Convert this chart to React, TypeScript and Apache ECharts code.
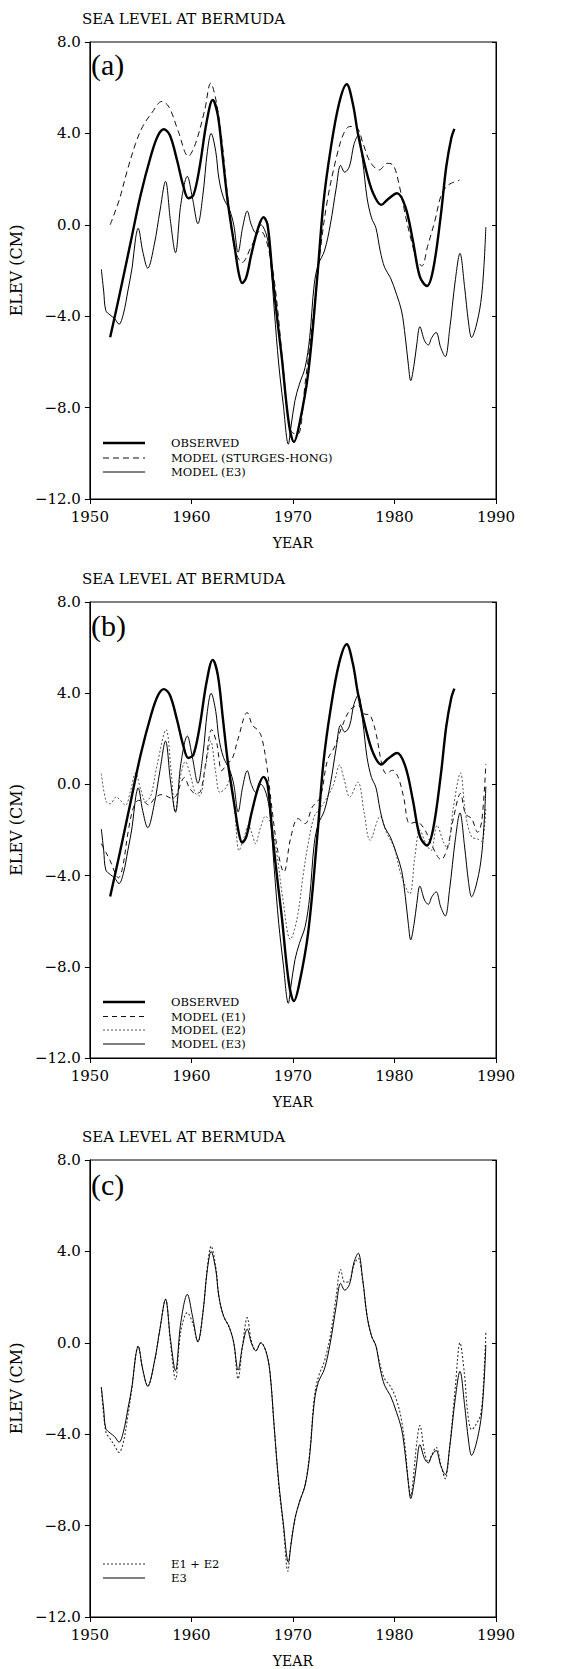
import React, { useEffect, useRef } from "react";
import * as echarts from "echarts";

// ---------- DATA (year, elevation in cm) ----------
const xTickYears = [1950, 1960, 1970, 1980, 1990];
const yTickValues = [-12, -8, -4, 0, 4, 8];

const observed: [number, number][] = [
  [1952.0, -4.92], [1953.0, -2.9], [1954.0, -0.8], [1955.0, 1.3], [1956.0, 3.0],
  [1956.7, 3.9], [1957.3, 4.18], [1957.9, 3.9], [1958.6, 2.8], [1959.2, 1.7],
  [1959.7, 1.16], [1960.2, 1.3], [1960.8, 2.5], [1961.5, 4.5], [1962.1, 5.46],
  [1962.6, 4.8], [1963.1, 2.9], [1963.6, 0.94], [1964.3, -1.1], [1964.7, -2.2],
  [1965.0, -2.55], [1965.4, -2.3], [1965.9, -1.3], [1966.6, -0.1], [1967.1, 0.33],
  [1967.5, 0.0], [1968.0, -2.27], [1968.5, -4.3], [1968.9, -5.8], [1969.6, -8.7],
  [1970.1, -9.5], [1970.6, -8.8], [1971.5, -6.5], [1972.4, -2.27], [1973.0, 0.94],
  [1973.7, 3.27], [1974.55, 5.32], [1975.3, 6.15], [1975.9, 5.3], [1976.4, 4.0],
  [1977.2, 2.4], [1977.9, 1.38], [1978.7, 0.87], [1979.3, 1.1], [1980.26, 1.38],
  [1981.07, 0.79], [1981.8, -0.66], [1982.5, -2.27], [1983.2, -2.68], [1983.8, -1.98],
  [1984.55, 0.36], [1985.1, 2.54], [1985.6, 3.8], [1985.9, 4.2],
];

const sturgesHong: [number, number][] = [
  [1952.0, 0.0], [1952.9, 1.1], [1953.7, 2.4], [1954.5, 3.55], [1955.2, 4.3],
  [1956.1, 4.9], [1957.1, 5.4], [1957.8, 5.15], [1958.7, 4.1], [1959.7, 3.0],
  [1960.4, 3.55], [1961.3, 5.0], [1961.9, 6.2], [1962.4, 5.5], [1963.0, 3.7],
  [1963.6, 1.1], [1964.3, -1.1], [1965.0, -1.65], [1965.9, -0.95], [1966.8, -0.25],
  [1967.45, -0.8], [1968.2, -2.56], [1969.0, -6.06], [1969.6, -8.69], [1969.95, -9.1],
  [1970.5, -9.15], [1971.2, -6.94], [1972.1, -3.6], [1972.7, -1.1], [1973.4, 1.09],
  [1974.3, 2.98], [1975.0, 4.0], [1975.6, 4.3], [1976.3, 4.25], [1976.9, 3.57],
  [1977.6, 2.76], [1978.5, 2.4], [1979.3, 2.69], [1979.9, 2.6], [1980.5, 1.67],
  [1981.1, 0.36], [1981.65, -0.67], [1982.2, -1.54], [1982.7, -1.8], [1983.25, -0.96],
  [1984.0, 0.21], [1984.55, 1.23], [1985.1, 1.67], [1985.6, 1.82], [1986.4, 1.95],
];

const modelE3: [number, number][] = [
  [1951.13, -1.95], [1951.36, -2.9], [1951.57, -3.75], [1952.0, -3.95], [1952.43, -4.1],
  [1952.87, -4.35], [1953.3, -3.9], [1953.74, -2.9], [1954.17, -1.85], [1954.5, -0.6],
  [1954.75, -0.15], [1955.2, -1.15], [1955.7, -1.9], [1956.35, -0.85], [1956.9, 0.6],
  [1957.45, 1.9], [1957.94, 0.15], [1958.43, -1.22], [1958.96, 0.9], [1959.6, 2.12],
  [1960.1, 1.18], [1960.64, 0.05], [1961.13, 1.3], [1961.57, 3.2], [1961.94, 4.0],
  [1962.4, 3.2], [1962.7, 2.05], [1963.16, 1.18], [1963.74, 0.67], [1964.17, 0.0],
  [1964.6, -1.2], [1965.04, -0.13], [1965.5, 0.6], [1965.9, 0.0], [1966.35, -0.35],
  [1966.84, 0.0], [1967.36, -0.4], [1967.74, -1.3], [1968.17, -3.77], [1968.6, -6.09],
  [1969.04, -7.84], [1969.55, -9.6], [1969.8, -8.86], [1970.2, -7.69], [1970.64, -6.97],
  [1971.2, -6.24], [1971.65, -4.93], [1972.1, -2.6], [1972.5, -1.73], [1973.1, -1.15],
  [1973.68, 0.0], [1974.26, 1.6], [1974.7, 2.6], [1975.1, 2.3], [1975.57, 2.56],
  [1976.0, 3.5], [1976.43, 3.92], [1976.87, 2.78], [1977.3, 1.18], [1977.74, 0.3],
  [1978.17, -0.13], [1978.6, -1.15], [1979.04, -1.88], [1979.6, -2.31], [1980.2, -3.04],
  [1980.7, -3.77], [1981.07, -4.93], [1981.36, -6.09], [1981.6, -6.82], [1981.94, -6.09],
  [1982.2, -5.22], [1982.5, -4.46], [1982.96, -5.07], [1983.33, -5.26], [1983.68, -4.93],
  [1984.1, -4.71], [1984.55, -5.37], [1985.0, -5.77], [1985.42, -4.64], [1986.0, -2.4],
  [1986.45, -1.25], [1986.9, -2.7], [1987.3, -4.3], [1987.6, -4.93], [1988.0, -4.5],
  [1988.5, -3.4], [1988.8, -1.9], [1989.0, -0.1],
];

const modelE1: [number, number][] = [
  [1951.13, -2.6], [1951.6, -3.0], [1952.0, -3.35], [1952.5, -3.9], [1952.8, -4.1],
  [1953.2, -3.7], [1953.8, -2.0], [1954.3, -1.0], [1954.8, -0.7], [1955.3, -0.75],
  [1955.8, -0.9], [1956.4, -0.6], [1957.0, -0.45], [1957.5, -0.5], [1958.0, -0.6],
  [1958.5, -0.5], [1959.0, 0.1], [1959.3, 0.3], [1959.8, -0.15], [1960.4, -0.4],
  [1960.9, -0.3], [1961.4, 0.9], [1962.0, 2.4], [1962.5, 1.8], [1963.0, 0.6],
  [1963.5, 0.9], [1964.0, 1.1], [1964.6, 2.0], [1965.5, 3.15], [1966.0, 2.6],
  [1966.5, 2.4], [1966.9, 2.1], [1967.4, 0.9], [1968.0, -1.3], [1968.5, -2.9],
  [1969.1, -3.85], [1969.8, -2.3], [1970.5, -1.5], [1971.2, -1.72], [1971.9, -1.0],
  [1972.7, -0.55], [1973.4, 1.06], [1974.1, 1.64], [1974.8, 2.5], [1975.6, 3.25],
  [1976.4, 3.47], [1977.0, 3.1], [1977.6, 3.03], [1978.2, 2.2], [1978.75, 0.9],
  [1979.2, 0.47], [1979.8, 0.62], [1980.35, 0.33], [1980.9, -0.55], [1981.5, -1.72],
  [1982.2, -1.65], [1983.0, -2.0], [1983.7, -2.7], [1984.6, -3.3], [1985.2, -2.8],
  [1985.8, -1.5], [1986.5, -0.4], [1987.0, -1.3], [1987.6, -1.5], [1988.2, -2.1],
  [1988.6, -1.6], [1989.0, 0.9],
];

const modelE2: [number, number][] = [
  [1951.13, 0.47], [1951.6, -0.75], [1952.0, -0.85], [1952.6, -0.55], [1953.0, -0.7],
  [1953.5, -0.92], [1954.0, -0.3], [1954.5, 0.5], [1955.0, -0.2], [1955.5, -0.75],
  [1956.0, -0.5], [1956.6, 0.8], [1957.5, 2.4], [1958.0, 0.6], [1958.4, -1.2],
  [1958.9, 0.3], [1959.4, 1.0], [1959.9, 0.4], [1960.4, -0.4], [1960.8, -0.5],
  [1961.4, 0.8], [1961.9, 1.9], [1962.4, 0.5], [1962.8, -0.35], [1963.3, -0.2],
  [1963.8, 0.2], [1964.2, -0.8], [1964.7, -2.9], [1965.2, -2.3], [1965.6, -1.8],
  [1966.0, -2.2], [1966.3, -2.6], [1966.8, -1.9], [1967.3, -1.4], [1967.8, -1.7],
  [1968.4, -3.0], [1969.0, -5.0], [1969.75, -6.8], [1970.4, -5.9], [1971.0, -4.0],
  [1971.5, -2.6], [1972.1, -1.4], [1972.6, -1.1], [1973.2, -0.7], [1974.0, 0.0],
  [1974.6, 0.85], [1975.0, 0.3], [1975.6, -0.55], [1976.4, 0.1], [1977.0, -1.2],
  [1977.6, -2.45], [1978.6, -1.4], [1979.2, -2.1], [1980.0, -2.8], [1980.6, -3.9],
  [1981.5, -4.8], [1982.0, -3.2], [1982.5, -2.0], [1983.1, -2.6], [1983.6, -2.9],
  [1984.2, -1.8], [1984.8, -2.5], [1985.2, -2.8], [1985.8, -1.0], [1986.5, 0.5],
  [1987.0, -1.3], [1987.6, -2.3], [1988.2, -2.4], [1988.6, -2.5], [1989.0, -1.0],
];

const modelE1E2: [number, number][] = [
  [1951.13, -1.95], [1951.57, -3.9], [1952.0, -4.2], [1952.43, -4.5], [1952.87, -4.8],
  [1953.3, -4.35], [1953.74, -3.2], [1954.17, -1.9], [1954.5, -0.6], [1954.75, -0.15],
  [1955.2, -1.15], [1955.7, -1.9], [1956.35, -0.85], [1956.9, 0.6], [1957.45, 1.9],
  [1957.94, 0.0], [1958.43, -1.6], [1958.96, 0.5], [1959.6, 1.32], [1960.1, 0.9],
  [1960.64, 0.05], [1961.13, 1.3], [1961.57, 3.3], [1961.94, 4.23], [1962.4, 3.3],
  [1962.7, 2.05], [1963.16, 1.18], [1963.74, 0.67], [1964.17, 0.0], [1964.6, -1.58],
  [1965.04, -0.1], [1965.5, 1.1], [1965.9, 0.1], [1966.35, -0.35], [1966.84, 0.0],
  [1967.36, -0.4], [1967.74, -1.3], [1968.17, -3.8], [1968.6, -6.2], [1969.04, -8.0],
  [1969.5, -10.0], [1969.77, -8.9], [1970.2, -7.7], [1970.64, -6.97], [1971.2, -6.2],
  [1971.65, -4.8], [1972.1, -2.4], [1972.5, -1.5], [1973.1, -0.8], [1973.68, 0.3],
  [1974.26, 2.05], [1974.7, 3.21], [1975.1, 2.65], [1975.57, 2.7], [1976.0, 3.4],
  [1976.43, 3.7], [1976.87, 2.7], [1977.3, 1.18], [1977.74, 0.3], [1978.17, -0.13],
  [1978.6, -1.0], [1979.04, -1.58], [1979.6, -1.9], [1980.2, -2.5], [1980.7, -3.4],
  [1981.07, -4.64], [1981.36, -6.09], [1981.6, -6.7], [1981.94, -5.51], [1982.2, -4.35],
  [1982.5, -3.62], [1982.96, -4.78], [1983.33, -5.22], [1983.68, -4.9], [1984.1, -4.57],
  [1984.55, -5.3], [1985.0, -5.95], [1985.42, -4.64], [1986.0, -1.9], [1986.45, 0.0],
  [1986.9, -1.4], [1987.2, -3.0], [1987.6, -3.8], [1988.0, -3.6], [1988.5, -3.1],
  [1988.8, -1.5], [1989.0, 0.45],
];

const panelTitles = ["SEA LEVEL AT BERMUDA", "SEA LEVEL AT BERMUDA", "SEA LEVEL AT BERMUDA"];
const panelLetters = ["(a)", "(b)", "(c)"];
const legendA = ["OBSERVED", "MODEL (STURGES-HONG)", "MODEL (E3)"];
const legendB = ["OBSERVED", "MODEL (E1)", "MODEL (E2)", "MODEL (E3)"];
const legendC = ["E1 + E2", "E3"];

// ---------- STYLE / LAYOUT ----------
const FONT = "'DejaVu Serif', serif";
const LETTER_FONT = "'Liberation Serif', 'DejaVu Serif', serif";
const GRID_LEFT = 82;
const GRID_WIDTH = 414;
const GRID_TOPS = [42, 602, 1160];
const GRID_HEIGHTS = [457, 456, 458];

const STY = {
  observed: { color: "#000", width: 2.4, type: "solid" as any },
  sh: { color: "#111", width: 1, type: [6, 4] as any },
  e1: { color: "#111", width: 1, type: [5, 4] as any },
  e2: { color: "#555", width: 1, type: [2, 2] as any },
  e1e2: { color: "#333", width: 1.1, type: [2, 2] as any },
  e3: { color: "#000", width: 1, type: "solid" as any },
};

const fmtY = (v: number) => v.toFixed(1).replace("-", "\u2212");
const fmtX = (v: number) => String(v);

export default function App() {
  const ref = useRef<HTMLDivElement>(null);

  useEffect(() => {
    document.body.style.margin = "0";
    if (!ref.current) return;
    const chart = echarts.init(ref.current, undefined, { renderer: "svg" });

    const grids = GRID_TOPS.map((t, i) => ({
      left: GRID_LEFT,
      top: t,
      width: GRID_WIDTH,
      height: GRID_HEIGHTS[i],
      show: true,
      borderColor: "#000",
      borderWidth: 1,
      backgroundColor: "transparent",
    }));

    const xAxes = GRID_TOPS.map((_, i) => ({
      gridIndex: i,
      type: "value",
      min: xTickYears[0],
      max: xTickYears[xTickYears.length - 1],
      interval: 10,
      axisLine: { onZero: false, lineStyle: { color: "#000", width: 1 } },
      axisTick: { show: true, length: 5, lineStyle: { color: "#000" } },
      axisLabel: { color: "#000", fontFamily: FONT, fontSize: 15, margin: 10, formatter: fmtX },
      splitLine: { show: false },
      name: "YEAR",
      nameLocation: "middle",
      nameGap: 37,
      nameTextStyle: { color: "#000", fontFamily: FONT, fontSize: 14 },
    }));

    const yLeft = GRID_TOPS.map((_, i) => ({
      gridIndex: i,
      type: "value",
      min: yTickValues[0],
      max: yTickValues[yTickValues.length - 1],
      interval: 4,
      axisLine: { show: true, onZero: false, lineStyle: { color: "#000", width: 1 } },
      axisTick: { show: true, length: 5, lineStyle: { color: "#000" } },
      axisLabel: { color: "#000", fontFamily: FONT, fontSize: 15, margin: 9, formatter: fmtY },
      splitLine: { show: false },
      name: "ELEV (CM)",
      nameLocation: "middle",
      nameRotate: 90,
      nameGap: 50,
      nameTextStyle: { color: "#000", fontFamily: FONT, fontSize: 16 },
    }));

    const yRight = GRID_TOPS.map((_, i) => ({
      gridIndex: i,
      type: "value",
      position: "right",
      min: yTickValues[0],
      max: yTickValues[yTickValues.length - 1],
      interval: 4,
      axisLine: { show: true, onZero: false, lineStyle: { color: "#000", width: 1 } },
      axisTick: { show: true, inside: true, length: 4, lineStyle: { color: "#000" } },
      axisLabel: { show: false },
      splitLine: { show: false },
    }));

    const line = (name: string, data: [number, number][], idx: number, st: any, z = 2) => ({
      name,
      type: "line",
      xAxisIndex: idx,
      yAxisIndex: idx,
      data,
      smooth: 0.35,
      symbol: "none",
      z,
      lineStyle: { color: st.color, width: st.width, type: st.type },
    });

    const series = [
      line("MODEL (STURGES-HONG)", sturgesHong, 0, STY.sh),
      line("MODEL (E3)", modelE3, 0, STY.e3),
      line("OBSERVED", observed, 0, STY.observed, 3),
      line("MODEL (E1)", modelE1, 1, STY.e1),
      line("MODEL (E2)", modelE2, 1, STY.e2),
      line("MODEL (E3) ", modelE3, 1, STY.e3),
      line("OBSERVED ", observed, 1, STY.observed, 3),
      line("E1 + E2", modelE1E2, 2, STY.e1e2),
      line("E3", modelE3, 2, STY.e3, 3),
    ];

    const graphic: any[] = [];
    const titleY = [20, 580, 1138];
    const letterY = [64, 625, 1184];
    titleY.forEach((y, i) => {
      graphic.push({
        type: "text",
        left: GRID_LEFT,
        top: y - 9,
        style: { text: panelTitles[i], fill: "#000", font: `15px ${FONT}` },
      });
      graphic.push({
        type: "text",
        x: GRID_LEFT + 9,
        y: letterY[i],
        style: {
          text: panelLetters[i],
          fill: "#000",
          font: `30px ${LETTER_FONT}`,
          align: "left",
          verticalAlign: "middle",
        },
      });
    });

    const legendRows = (labels: string[], styles: any[], ys: number[]) => {
      labels.forEach((lab, k) => {
        const st = styles[k];
        graphic.push({
          type: "line",
          shape: { x1: GRID_LEFT + 21, y1: ys[k], x2: GRID_LEFT + 63, y2: ys[k] },
          style: { stroke: st.color, lineWidth: st.width, lineDash: Array.isArray(st.type) ? st.type : null },
        });
        graphic.push({
          type: "text",
          x: GRID_LEFT + 89,
          y: ys[k],
          style: { text: lab, fill: "#000", font: `11.5px ${FONT}`, verticalAlign: "middle", align: "left" },
        });
      });
    };
    legendRows(legendA, [STY.observed, STY.sh, STY.e3], [443, 458, 472]);
    legendRows(legendB, [STY.observed, STY.e1, STY.e2, STY.e3], [1002, 1016.5, 1030, 1044]);
    legendRows(legendC, [STY.e1e2, STY.e3], [1564, 1578]);

    chart.setOption({
      animation: false,
      backgroundColor: "#fff",
      grid: grids,
      xAxis: xAxes,
      yAxis: [...yLeft, ...yRight],
      series,
      graphic,
    });

    return () => chart.dispose();
  }, []);

  return (
    <div
      ref={ref}
      style={{ width: 581, height: 1669, position: "absolute", left: 0, top: 0, background: "#fff" }}
    />
  );
}
